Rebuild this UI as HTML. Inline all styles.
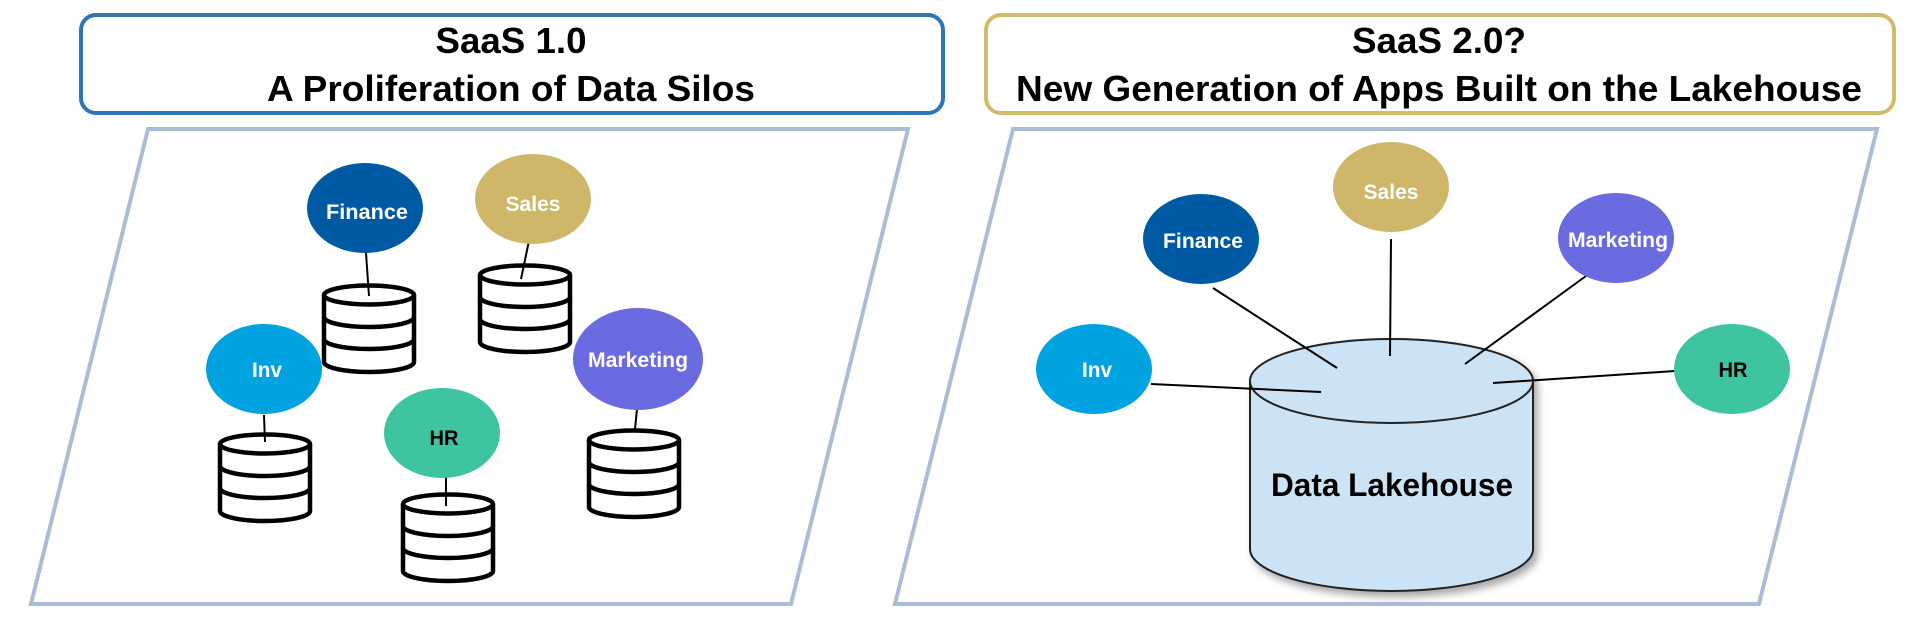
<!DOCTYPE html>
<html><head><meta charset="utf-8"><style>html,body{margin:0;padding:0;background:#fff}svg{display:block}</style></head>
<body>
<svg width="1914" height="624" viewBox="0 0 1914 624" xmlns="http://www.w3.org/2000/svg" font-family="'Liberation Sans', sans-serif" font-weight="bold">
<defs>
<filter id="sh" x="-20%" y="-20%" width="150%" height="150%"><feGaussianBlur in="SourceAlpha" stdDeviation="4"/><feOffset dx="4" dy="5"/><feComponentTransfer><feFuncA type="linear" slope="0.35"/></feComponentTransfer><feMerge><feMergeNode/><feMergeNode in="SourceGraphic"/></feMerge></filter>
<g id="db" fill="none" stroke="#000" stroke-width="4.5">
<ellipse cx="0" cy="9" rx="45" ry="9.5"/>
<path d="M-45 9 V76 A45 10 0 0 0 45 76 V9"/>
<path d="M-45 31 A45 10 0 0 0 45 31"/>
<path d="M-45 53 A45 10 0 0 0 45 53"/>
</g>
</defs>
<rect x="81" y="15" width="862" height="98" rx="15" fill="#fff" stroke="#2e75b6" stroke-width="4"/>
<text x="511" y="53" font-size="36" text-anchor="middle" textLength="151" lengthAdjust="spacingAndGlyphs">SaaS 1.0</text>
<text x="511" y="101" font-size="36" text-anchor="middle" textLength="488" lengthAdjust="spacingAndGlyphs">A Proliferation of Data Silos</text>
<rect x="986" y="15" width="908" height="98" rx="15" fill="#fff" stroke="#d4bb6b" stroke-width="4"/>
<text x="1439" y="53" font-size="36" text-anchor="middle" textLength="174" lengthAdjust="spacingAndGlyphs">SaaS 2.0?</text>
<text x="1439" y="101" font-size="36" text-anchor="middle" textLength="846" lengthAdjust="spacingAndGlyphs">New Generation of Apps Built on the Lakehouse</text>
<polygon points="148,129 908,129 791,604 31,604" fill="#fff" stroke="#aabdd5" stroke-width="4"/>
<polygon points="1013,129 1877,129 1759,604 895,604" fill="#fff" stroke="#aabdd5" stroke-width="4"/>
<use href="#db" x="369" y="286"/>
<use href="#db" x="525" y="266"/>
<use href="#db" x="265" y="435"/>
<use href="#db" x="448" y="495"/>
<use href="#db" x="634" y="431"/>
<g stroke="#000" stroke-width="2">
<line x1="366" y1="253" x2="369" y2="296"/>
<line x1="530" y1="236" x2="521" y2="279"/>
<line x1="264" y1="415" x2="265" y2="442"/>
<line x1="446" y1="475" x2="446" y2="506"/>
<line x1="637" y1="409" x2="635" y2="429"/>
</g>
<ellipse cx="365" cy="208" rx="58" ry="45" fill="#005aa3"/>
<ellipse cx="533" cy="199" rx="58" ry="45" fill="#cfb76a"/>
<ellipse cx="264" cy="369" rx="58" ry="45" fill="#00a2e0"/>
<ellipse cx="638" cy="359" rx="65" ry="51" fill="#6a6be0"/>
<ellipse cx="442" cy="433" rx="58" ry="45" fill="#3ec4a0"/>
<g font-size="21" text-anchor="middle">
<text x="367" y="219" fill="#fff" textLength="82" lengthAdjust="spacingAndGlyphs">Finance</text>
<text x="533" y="211" fill="#fff" textLength="55" lengthAdjust="spacingAndGlyphs">Sales</text>
<text x="267" y="377" fill="#fff" textLength="30" lengthAdjust="spacingAndGlyphs">Inv</text>
<text x="638" y="367" fill="#fff" textLength="100" lengthAdjust="spacingAndGlyphs">Marketing</text>
<text x="444" y="445" fill="#000" textLength="29" lengthAdjust="spacingAndGlyphs">HR</text>
</g>
<g filter="url(#sh)">
<path d="M1250 381 V549 A141.5 42 0 0 0 1533 549 V381 Z" fill="#cce3f5" stroke="#222" stroke-width="2"/>
<ellipse cx="1391.5" cy="381" rx="141.5" ry="42" fill="#cce3f5" stroke="#222" stroke-width="2"/>
</g>
<text x="1392" y="496" font-size="32" text-anchor="middle" textLength="242" lengthAdjust="spacingAndGlyphs">Data Lakehouse</text>
<g stroke="#000" stroke-width="2">
<line x1="1213" y1="288" x2="1337" y2="368"/>
<line x1="1391" y1="239" x2="1390" y2="356"/>
<line x1="1586" y1="276" x2="1465" y2="364"/>
<line x1="1151" y1="384" x2="1321" y2="392"/>
<line x1="1675" y1="371" x2="1493" y2="383"/>
</g>
<ellipse cx="1391" cy="187" rx="58" ry="45" fill="#cfb76a"/>
<ellipse cx="1201" cy="239" rx="58" ry="45" fill="#005aa3"/>
<ellipse cx="1616" cy="238" rx="58" ry="45" fill="#6a6be0"/>
<ellipse cx="1094" cy="369" rx="58" ry="45" fill="#00a2e0"/>
<ellipse cx="1732" cy="369" rx="58" ry="45" fill="#3ec4a0"/>
<g font-size="21" text-anchor="middle">
<text x="1391" y="199" fill="#fff" textLength="55" lengthAdjust="spacingAndGlyphs">Sales</text>
<text x="1203" y="248" fill="#fff" textLength="80" lengthAdjust="spacingAndGlyphs">Finance</text>
<text x="1618" y="247" fill="#fff" textLength="100" lengthAdjust="spacingAndGlyphs">Marketing</text>
<text x="1097" y="377" fill="#fff" textLength="30" lengthAdjust="spacingAndGlyphs">Inv</text>
<text x="1733" y="377" fill="#000" textLength="29" lengthAdjust="spacingAndGlyphs">HR</text>
</g>
</svg>
</body></html>
